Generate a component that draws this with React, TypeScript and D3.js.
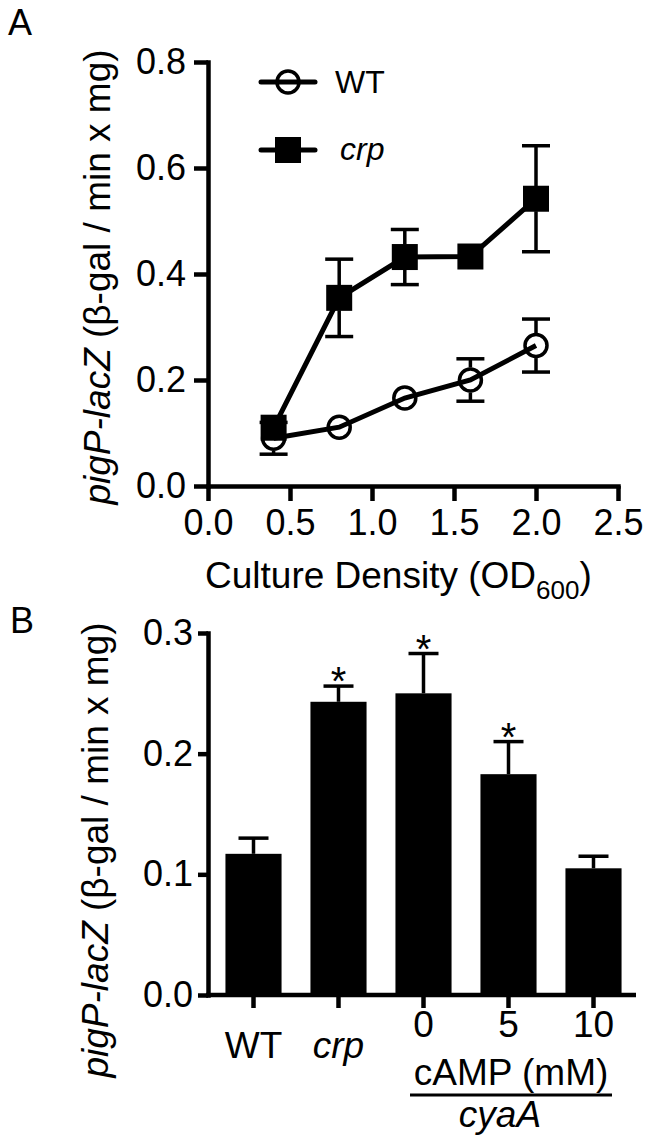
import { useEffect, useRef } from "react";
import * as d3 from "d3";

// Panel A: reporter activity over culture density
const odValues = [0.4, 0.8, 1.2, 1.6, 2.0];
const wtMean = [0.09, 0.111, 0.166, 0.2, 0.265];
const wtErr = [0.03, 0.008, 0.008, 0.04, 0.05];
const crpMean = [0.11, 0.355, 0.432, 0.433, 0.542];
const crpErr = [0.02, 0.073, 0.052, 0.008, 0.1];
const yTicksA = [0, 0.2, 0.4, 0.6, 0.8];
const xTicksA = [0, 0.5, 1.0, 1.5, 2.0, 2.5];

// Panel B: strains / cAMP treatment
const groups = ["WT", "crp", "0", "5", "10"];
const barMean = [0.117, 0.243, 0.25, 0.183, 0.105];
const barErr = [0.013, 0.013, 0.033, 0.027, 0.01];
const starred = [false, true, true, true, false];
const yTicksB = [0, 0.1, 0.2, 0.3];

const FONT = "'Liberation Sans', Arial, Helvetica, sans-serif";

export default function App() {
  const ref = useRef<SVGSVGElement>(null);

  useEffect(() => {
    const svg = d3.select(ref.current);
    svg.selectAll("*").remove();
    svg.attr("font-family", FONT);

    const styleAxis = (g: any, fs: number) => {
      g.selectAll("path").attr("stroke", "#000").attr("stroke-width", 4.5).attr("stroke-linecap", "square");
      g.selectAll("line").attr("stroke", "#000").attr("stroke-width", 4.5);
      g.selectAll("text").attr("fill", "#000").attr("font-size", fs).attr("font-family", FONT);
    };

    // ---------- Panel A ----------
    const x = d3.scaleLinear().domain([0, 2.5]).range([208, 618]);
    const y = d3.scaleLinear().domain([0, 0.8]).range([486, 62]);

    svg.append("g")
      .attr("transform", "translate(208,0)")
      .call(d3.axisLeft(y).tickValues(yTicksA).tickFormat(d3.format(".1f")).tickSize(14).tickSizeOuter(0).tickPadding(8))
      .call((g: any) => styleAxis(g, 36));

    svg.append("g")
      .attr("transform", "translate(0,486)")
      .call(d3.axisBottom(x).tickValues(xTicksA).tickFormat(d3.format(".1f")).tickSize(15).tickSizeOuter(0).tickPadding(8))
      .call((g: any) => styleAxis(g, 36));

    const line = d3.line<number>().x((_, i) => x(odValues[i])).y((d) => y(d));
    const r = 12.5;

    const drawSeries = (mean: number[], err: number[], square: boolean) => {
      svg.append("path")
        .attr("d", line(mean))
        .attr("fill", "none")
        .attr("stroke", "#000")
        .attr("stroke-width", 5);

      mean.forEach((m, i) => {
        const cx = x(odValues[i]);
        const cy = y(m);
        const up = y(m + err[i]);
        const dn = y(m - err[i]);
        if (cy - up > r) {
          svg.append("line").attr("x1", cx).attr("x2", cx).attr("y1", cy - r).attr("y2", up)
            .attr("stroke", "#000").attr("stroke-width", 3.5);
          svg.append("line").attr("x1", cx - 14).attr("x2", cx + 14).attr("y1", up).attr("y2", up)
            .attr("stroke", "#000").attr("stroke-width", 3.5);
        }
        if (dn - cy > r) {
          svg.append("line").attr("x1", cx).attr("x2", cx).attr("y1", cy + r).attr("y2", dn)
            .attr("stroke", "#000").attr("stroke-width", 3.5);
          svg.append("line").attr("x1", cx - 14).attr("x2", cx + 14).attr("y1", dn).attr("y2", dn)
            .attr("stroke", "#000").attr("stroke-width", 3.5);
        }
        if (square) {
          svg.append("rect").attr("x", cx - 13).attr("y", cy - 13).attr("width", 26).attr("height", 26)
            .attr("fill", "#000");
        } else {
          svg.append("circle").attr("cx", cx).attr("cy", cy).attr("r", r - 1.5)
            .attr("fill", "none").attr("stroke", "#000").attr("stroke-width", 3.5);
        }
      });
    };

    drawSeries(wtMean, wtErr, false);
    drawSeries(crpMean, crpErr, true);

    // legend
    const leg = svg.append("g");
    leg.append("line").attr("x1", 261).attr("x2", 315).attr("y1", 82).attr("y2", 82)
      .attr("stroke", "#000").attr("stroke-width", 5).attr("stroke-linecap", "round");
    leg.append("circle").attr("cx", 288).attr("cy", 82).attr("r", 11)
      .attr("fill", "none").attr("stroke", "#000").attr("stroke-width", 3.5);
    leg.append("text").attr("x", 335).attr("y", 93).attr("font-size", 32).text("WT");
    leg.append("line").attr("x1", 261).attr("x2", 315).attr("y1", 150).attr("y2", 150)
      .attr("stroke", "#000").attr("stroke-width", 5).attr("stroke-linecap", "round");
    leg.append("rect").attr("x", 275).attr("y", 137).attr("width", 26).attr("height", 26).attr("fill", "#000");
    leg.append("text").attr("x", 340).attr("y", 160).attr("font-size", 32).attr("font-style", "italic").text("crp");

    // axis titles A
    const xt = svg.append("text").attr("x", 205).attr("y", 588).attr("font-size", 37);
    xt.append("tspan").text("Culture Density (OD");
    xt.append("tspan").attr("font-size", 26).attr("dy", 11).text("600");
    xt.append("tspan").attr("dy", -11).text(")");

    const yLabel = (cx: number, cy: number) => {
      const t = svg.append("text")
        .attr("transform", `translate(${cx},${cy}) rotate(-90)`)
        .attr("text-anchor", "middle")
        .attr("font-size", 37);
      t.append("tspan").attr("font-style", "italic").text("pigP-lacZ");
      t.append("tspan").text(" (β-gal / min x mg)");
    };
    yLabel(110, 277);

    svg.append("text").attr("x", 8).attr("y", 35).attr("font-size", 36).text("A");

    // ---------- Panel B ----------
    const xb = d3.scaleBand<string>().domain(groups).range([211, 636]).paddingInner(0.34).paddingOuter(0.17);
    const yb = d3.scaleLinear().domain([0, 0.3]).range([995, 633]);

    svg.append("g")
      .selectAll("rect")
      .data(groups)
      .join("rect")
      .attr("x", (d) => xb(d)!)
      .attr("y", (_, i) => yb(barMean[i]))
      .attr("width", xb.bandwidth())
      .attr("height", (_, i) => yb(0) - yb(barMean[i]))
      .attr("fill", "#000");

    groups.forEach((gname, i) => {
      const cx = xb(gname)! + xb.bandwidth() / 2;
      const top = yb(barMean[i]);
      const cap = yb(barMean[i] + barErr[i]);
      svg.append("line").attr("x1", cx).attr("x2", cx).attr("y1", top).attr("y2", cap)
        .attr("stroke", "#000").attr("stroke-width", 3.5);
      svg.append("line").attr("x1", cx - 15).attr("x2", cx + 15).attr("y1", cap).attr("y2", cap)
        .attr("stroke", "#000").attr("stroke-width", 3.5);
      if (starred[i]) {
        svg.append("text").attr("x", cx).attr("y", cap + 9).attr("text-anchor", "middle")
          .attr("font-size", 40).text("*");
      }
    });

    svg.append("g")
      .attr("transform", "translate(208,0)")
      .call(d3.axisLeft(yb).tickValues(yTicksB).tickFormat(d3.format(".1f")).tickSize(10).tickSizeOuter(0).tickPadding(5))
      .call((g: any) => styleAxis(g, 36));

    const xAxisB = svg.append("g")
      .attr("transform", "translate(0,995)")
      .call(d3.axisBottom(xb).tickFormat(() => "").tickSize(13).tickSizeOuter(0))
      .call((g: any) => styleAxis(g, 36));
    xAxisB.select(".domain").remove();
    xAxisB.append("line").attr("x1", 206).attr("x2", 636).attr("stroke", "#000").attr("stroke-width", 4.5);

    groups.forEach((gname, i) => {
      const cx = xb(gname)! + xb.bandwidth() / 2;
      const lower = i < 2;
      svg.append("text")
        .attr("x", cx)
        .attr("y", lower ? 1058 : 1037)
        .attr("text-anchor", "middle")
        .attr("font-size", 37)
        .attr("font-style", gname === "crp" ? "italic" : "normal")
        .text(gname);
    });

    svg.append("text").attr("x", 511).attr("y", 1085).attr("text-anchor", "middle").attr("font-size", 37).text("cAMP (mM)");
    svg.append("line").attr("x1", 410).attr("x2", 612).attr("y1", 1095).attr("y2", 1095)
      .attr("stroke", "#000").attr("stroke-width", 3);
    svg.append("text").attr("x", 500).attr("y", 1127).attr("text-anchor", "middle").attr("font-size", 37)
      .attr("font-style", "italic").text("cyaA");

    yLabel(108, 850);
    svg.append("text").attr("x", 10).attr("y", 633).attr("font-size", 36).text("B");
  }, []);

  return (
    <svg
      ref={ref}
      width={652}
      height={1145}
      style={{ position: "absolute", left: 0, top: 0, background: "#fff" }}
    />
  );
}
